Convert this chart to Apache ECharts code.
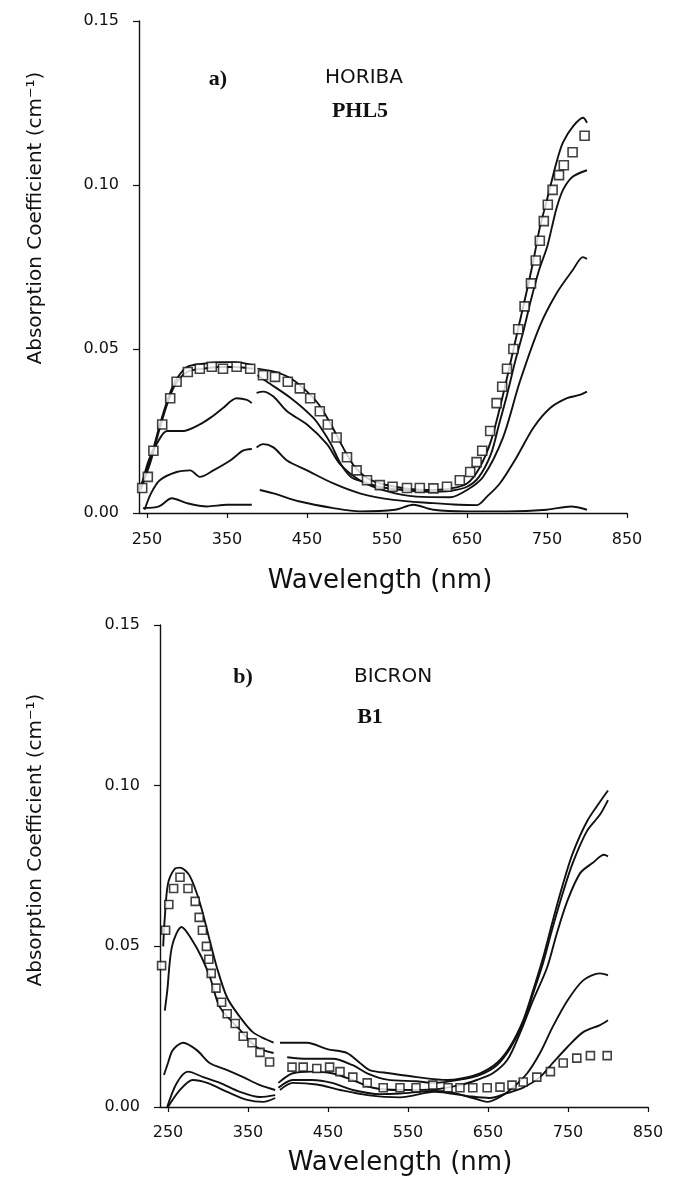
<!DOCTYPE html>
<html>
<head>
<meta charset="utf-8">
<script src="https://cdn.jsdelivr.net/npm/echarts@6/dist/echarts.min.js"></script>
<style>
  body { margin: 0; background: #fff; }
  #chart { width: 676px; height: 1184px; }
</style>
</head>
<body>
<div id="chart"></div>
<script>
// wavelength ticks and absorption ticks shared by both panels
var xTicks = [250, 350, 450, 550, 650, 750, 850];
var yTicks = [0, 0.05, 0.10, 0.15];

// panel a) HORIBA PHL5  -- [wavelength nm, absorption cm-1], '-' = lamp change gap
var aSquares = [[244,0.0076],[251,0.011],[258,0.019],[269,0.027],[279,0.035],[287,0.040],[301,0.043],[316,0.044],[331,0.0446],[345,0.044],[362,0.0446],[379,0.044],[395,0.042],[410,0.0415],[426,0.040],[441,0.038],[454,0.035],[466,0.031],[476,0.027],[487,0.023],[500,0.017],[512,0.013],[525,0.010],[541,0.0085],[557,0.008],[575,0.0076],[591,0.0076],[608,0.0075],[625,0.008],[641,0.010],[654,0.0125],[662,0.0155],[669,0.019],[679,0.025],[687,0.0335],[694,0.0385],[700,0.044],[708,0.050],[714,0.056],[722,0.063],[730,0.070],[736,0.077],[741,0.083],[746,0.089],[751,0.094],[757,0.0985],[765,0.103],[771,0.106],[782,0.110],[797,0.115]];
var aLine1 = [[242,0.008],[248,0.012],[255,0.017],[265,0.026],[275,0.034],[285,0.040],[300,0.0445],[320,0.0455],[340,0.046],[360,0.046],[383,0.045],[385,'-'],[388,0.044],[410,0.043],[430,0.041],[450,0.037],[465,0.033],[480,0.027],[495,0.020],[510,0.014],[530,0.010],[560,0.008],[600,0.007],[630,0.0075],[650,0.009],[665,0.0135],[680,0.022],[695,0.036],[710,0.052],[725,0.068],[733,0.077],[741,0.087],[750,0.0955],[762,0.107],[770,0.113],[783,0.118],[795,0.1205],[800,0.119]];
var aLine2 = [[242,0.007],[248,0.011],[255,0.016],[265,0.025],[275,0.033],[285,0.039],[300,0.043],[320,0.044],[340,0.0445],[360,0.0445],[383,0.044],[385,'-'],[388,0.042],[400,0.040],[430,0.035],[458,0.029],[470,0.025],[480,0.021],[492,0.015],[505,0.011],[520,0.0095],[540,0.008],[570,0.007],[600,0.0065],[630,0.0068],[650,0.008],[665,0.011],[680,0.018],[690,0.027],[700,0.036],[710,0.046],[720,0.055],[730,0.065],[740,0.074],[750,0.081],[756,0.087],[762,0.093],[770,0.0985],[782,0.1025],[800,0.1045]];
var aLine3 = [[244,0.009],[252,0.016],[262,0.021],[275,0.025],[295,0.025],[316,0.027],[329,0.029],[345,0.032],[362,0.035],[375,0.0345],[381,0.0335],[385,'-'],[387,0.0366],[395,0.037],[408,0.0355],[425,0.031],[450,0.027],[475,0.021],[491,0.015],[516,0.010],[545,0.007],[587,0.005],[629,0.0048],[650,0.007],[670,0.011],[695,0.023],[716,0.040],[741,0.057],[762,0.067],[782,0.074],[795,0.078],[800,0.0775]];
var aLine4 = [[247,0.001],[255,0.006],[266,0.010],[287,0.0125],[304,0.013],[316,0.011],[333,0.013],[354,0.016],[370,0.019],[381,0.0195],[385,'-'],[387,0.020],[395,0.021],[408,0.020],[425,0.016],[450,0.013],[483,0.009],[516,0.006],[558,0.004],[608,0.003],[640,0.0025],[662,0.0024],[675,0.005],[691,0.009],[712,0.017],[733,0.026],[754,0.032],[775,0.035],[791,0.036],[800,0.037]];
var aLine5 = [[245,0.0015],[265,0.002],[281,0.0045],[300,0.003],[325,0.002],[350,0.0025],[381,0.0025],[385,'-'],[391,0.007],[408,0.006],[441,0.0035],[483,0.0015],[516,0.0005],[560,0.001],[583,0.0025],[608,0.001],[650,0.0005],[700,0.0005],[750,0.001],[780,0.002],[800,0.001]];

// panel b) BICRON B1
var bSquares = [[242,0.044],[247,0.055],[251,0.063],[257,0.068],[265,0.0715],[275,0.068],[284,0.064],[289,0.059],[293,0.055],[298,0.050],[301,0.046],[304,0.0416],[310,0.037],[317,0.0326],[324,0.029],[334,0.026],[344,0.022],[355,0.020],[365,0.017],[377,0.014],[405,0.0124],[419,0.0124],[436,0.012],[452,0.0124],[465,0.011],[481,0.0093],[499,0.0075],[519,0.006],[540,0.006],[560,0.006],[581,0.0068],[600,0.006],[615,0.006],[631,0.006],[649,0.006],[665,0.0062],[680,0.0068],[694,0.0078],[711,0.0093],[728,0.011],[744,0.0137],[761,0.0152],[778,0.016],[799,0.016]];
var bLine1 = [[244,0.050],[246,0.059],[250,0.0695],[258,0.074],[265,0.0745],[277,0.072],[290,0.0634],[302,0.052],[311,0.0435],[324,0.034],[340,0.028],[356,0.0233],[373,0.021],[382,0.020],[385,'-'],[390,0.020],[406,0.020],[424,0.020],[449,0.018],[474,0.0168],[490,0.0137],[502,0.0115],[527,0.0105],[561,0.0093],[599,0.0084],[615,0.0088],[640,0.0105],[661,0.0137],[677,0.0186],[694,0.027],[706,0.036],[719,0.0466],[731,0.058],[744,0.0696],[756,0.079],[774,0.089],[790,0.095],[800,0.0985]];
var bLine2 = [[246,0.030],[249,0.036],[255,0.050],[267,0.056],[280,0.052],[292,0.0466],[303,0.040],[315,0.031],[340,0.024],[361,0.0186],[382,0.0168],[385,'-'],[399,0.0155],[424,0.015],[456,0.015],[481,0.013],[499,0.0105],[524,0.0085],[560,0.008],[583,0.0075],[615,0.0085],[640,0.010],[661,0.013],[677,0.018],[694,0.026],[706,0.035],[719,0.045],[731,0.056],[744,0.067],[756,0.076],[774,0.086],[790,0.091],[800,0.0955]];
var bLine3 = [[245,0.010],[250,0.0137],[256,0.0177],[269,0.020],[286,0.0177],[302,0.0137],[324,0.0115],[344,0.0093],[365,0.0068],[384,0.0053],[385,'-'],[388,0.0075],[406,0.0105],[430,0.011],[455,0.0105],[481,0.0084],[506,0.006],[540,0.0053],[583,0.0055],[615,0.0068],[636,0.0084],[656,0.0105],[674,0.0146],[690,0.023],[706,0.033],[724,0.0435],[736,0.054],[749,0.064],[765,0.0727],[781,0.076],[795,0.0785],[800,0.078]];
var bLine4 = [[249,0.000],[261,0.0075],[275,0.011],[294,0.0093],[315,0.0075],[340,0.0047],[365,0.0031],[384,0.0037],[385,'-'],[388,0.006],[406,0.0084],[430,0.0084],[455,0.0075],[481,0.0053],[515,0.004],[540,0.0042],[583,0.005],[602,0.0047],[631,0.0028],[649,0.0016],[665,0.0031],[681,0.006],[699,0.0105],[715,0.0168],[731,0.025],[749,0.033],[769,0.0394],[790,0.0416],[800,0.041]];
var bLine5 = [[250,0.000],[265,0.0053],[281,0.0084],[299,0.0075],[324,0.0047],[349,0.0022],[369,0.0016],[384,0.0028],[385,'-'],[390,0.0053],[406,0.0075],[436,0.007],[465,0.0053],[499,0.0037],[540,0.003],[583,0.0047],[625,0.0034],[652,0.0028],[674,0.0043],[694,0.006],[715,0.0093],[731,0.0137],[749,0.0186],[769,0.0233],[790,0.0255],[800,0.027]];

var chart = echarts.init(document.getElementById('chart'));

var tickFont = { color: '#111', fontFamily: 'DejaVu Sans', fontSize: 16 };

function xAxisFor(idx, margin) {
    return {
        type: 'value', gridIndex: idx, min: 240, max: 850,
        axisLine: { lineStyle: { color: '#111', width: 1.4 } },
        axisTick: { customValues: xTicks, length: 5, lineStyle: { color: '#111', width: 1.2 } },
        axisLabel: Object.assign({ customValues: xTicks, margin: margin }, tickFont),
        splitLine: { show: false }
    };
}

function yAxisFor(idx) {
    return {
        type: 'value', gridIndex: idx, min: 0, max: 0.15,
        axisLine: { show: true, lineStyle: { color: '#111', width: 1.4 } },
        axisTick: { show: true, customValues: yTicks, length: 6, lineStyle: { color: '#111', width: 1.2 } },
        axisLabel: Object.assign({
            customValues: yTicks, margin: 20,
            formatter: function (v) { return v.toFixed(2); }
        }, tickFont),
        splitLine: { show: false }
    };
}

function line(idx, data) {
    return {
        type: 'line', xAxisIndex: idx, yAxisIndex: idx, data: data,
        smooth: 0.3, showSymbol: false, symbol: 'none', connectNulls: false,
        lineStyle: { color: '#111', width: 1.9 }, z: 2
    };
}

function squares(idx, data, size) {
    return {
        type: 'scatter', xAxisIndex: idx, yAxisIndex: idx, data: data,
        symbol: 'rect', symbolSize: size,
        itemStyle: { color: '#fff', borderColor: '#111', borderWidth: 1.6 }, z: 3
    };
}

function txt(x, y, text, font, rot) {
    return {
        type: 'text', x: x, y: y, rotation: rot || 0,
        style: { text: text, font: font, fill: '#111', textAlign: 'center', textVerticalAlign: 'middle' }
    };
}

var option = {
    animation: false,
    grid: [
        { left: 139, top: 21, width: 488, height: 492 },
        { left: 160, top: 625, width: 488, height: 482 }
    ],
    xAxis: [xAxisFor(0, 19), xAxisFor(1, 18)],
    yAxis: [yAxisFor(0), yAxisFor(1)],
    series: [
        line(0, aLine1), line(0, aLine2), line(0, aLine3), line(0, aLine4), line(0, aLine5),
        squares(0, aSquares, 9),
        line(1, bLine1), line(1, bLine2), line(1, bLine3), line(1, bLine4), line(1, bLine5),
        squares(1, bSquares, 8)
    ],
    graphic: [
        txt(36, 218, 'Absorption Coefficient (cm⁻¹)', '20px "DejaVu Sans"', Math.PI / 2),
        txt(36, 840, 'Absorption Coefficient (cm⁻¹)', '20px "DejaVu Sans"', Math.PI / 2),
        txt(380, 581, 'Wavelength (nm)', '26px "DejaVu Sans"'),
        txt(400, 1163, 'Wavelength (nm)', '26px "DejaVu Sans"'),
        txt(218, 79, 'a)', 'bold 22px "Liberation Serif"'),
        txt(364, 78, 'HORIBA', '20px "DejaVu Sans"'),
        txt(360, 111, 'PHL5', 'bold 22px "Liberation Serif"'),
        txt(243, 677, 'b)', 'bold 22px "Liberation Serif"'),
        txt(393, 677, 'BICRON', '20px "DejaVu Sans"'),
        txt(370, 717, 'B1', 'bold 22px "Liberation Serif"')
    ]
};

chart.setOption(option);
</script>
</body>
</html>
